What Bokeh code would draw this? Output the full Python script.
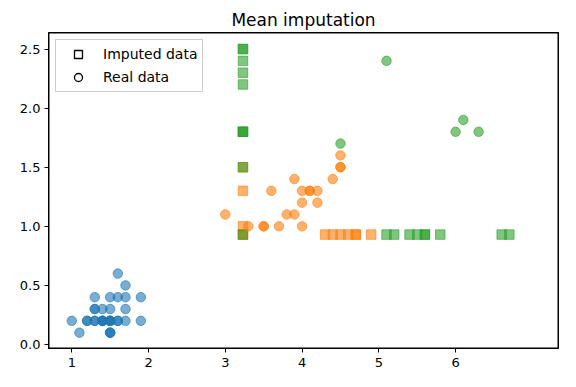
import numpy as np
from bokeh.plotting import figure
from bokeh.models import (Legend, LegendItem, FixedTicker, NumeralTickFormatter, Range1d)
from bokeh.embed import file_html
from bokeh.resources import INLINE

# Means used for imputation
MEAN_LENGTH = 3.23
MEAN_WIDTH = 0.93

species = ["setosa", "versicolor", "virginica"]
colors = ["#1f77b4", "#ff7f0e", "#2ca02c"]

# Petal length / width per species; None = missing value (imputed)
setosa_len = [1.0, 1.1, 1.2, 1.2, 1.3, 1.3, 1.4, 1.4, 1.4, 1.4, 1.5, 1.5, 1.5, 1.5,
              1.6, 1.6, 1.7, 1.9, 1.5, 1.5, 1.5, 1.3, 1.3, 1.4, 1.5, 1.7,
              1.3, 1.5, 1.6, 1.7, 1.9, 1.7, 1.6]
setosa_wid = [0.2, 0.1, 0.2, 0.2, 0.2, 0.2, 0.2, 0.2, 0.2, 0.2, 0.2, 0.2, 0.2, 0.2,
              0.2, 0.2, 0.2, 0.2, 0.1, 0.1, 0.1, 0.3, 0.3, 0.3, 0.3, 0.3,
              0.4, 0.4, 0.4, 0.4, 0.4, 0.5, 0.6]

versicolor_len = [3.0, 3.3, 3.5, 3.5, 3.7, 4.0, 3.6, 3.8, 3.9, 3.9, 4.0, 4.1, 4.1, 4.2,
                  4.0, 4.2, 4.4, 4.5, 4.5, 4.5,
                  None, None, None, None, None,
                  4.3, 4.4, 4.5, 4.6, 4.7, 4.7, 4.9]
versicolor_wid = [1.1, 1.0, 1.0, 1.0, 1.0, 1.0, 1.3, 1.1, 1.1, 1.4, 1.3, 1.3, 1.3, 1.3,
                  1.2, 1.2, 1.4, 1.5, 1.5, 1.6,
                  1.3, 1.0, 1.5, None, None,
                  None, None, None, None, None, None, None]

virginica_len = [4.5, 5.1, 6.0, 6.1, 6.3,
                 None, None, None, None, None, None, None, None, None, None,
                 5.1, 5.2, 5.4, 5.5, 5.6, 5.6, 5.8, 6.6, 6.7]
virginica_wid = [1.7, 2.4, 1.8, 1.9, 1.8,
                 2.5, 2.5, 2.4, 2.3, 2.2, 1.8, 1.8, 1.8, 1.5, None,
                 None, None, None, None, None, None, None, None, None]

x_ticks = [1, 2, 3, 4, 5, 6]
y_ticks = [0.0, 0.5, 1.0, 1.5, 2.0, 2.5]
x_limits = (0.697, 7.34)
y_limits = (-0.034, 2.64)

FONT = "DejaVu Sans"

p = figure(width=576, height=387, output_backend="svg", toolbar_location=None,
           title="Mean imputation",
           x_range=Range1d(*x_limits), y_range=Range1d(*y_limits),
           min_border_left=48, min_border_right=18, min_border_top=32, min_border_bottom=39)

p.title.align = "center"
p.title.text_font = FONT
p.title.text_font_size = "17px"
p.title.text_font_style = "normal"
p.title.text_color = "black"
p.title.standoff = 5

p.xgrid.visible = False
p.ygrid.visible = False
p.outline_line_color = "black"
p.outline_line_width = 1
p.outline_line_alpha = 1.0

for ax in (p.xaxis[0], p.yaxis[0]):
    ax.axis_line_color = "black"
    ax.major_tick_line_color = "black"
    ax.major_tick_out = 4
    ax.major_tick_in = 0
    ax.minor_tick_line_color = None
    ax.major_label_text_font = FONT
    ax.major_label_text_font_size = "13px"
    ax.major_label_text_color = "black"

p.xaxis[0].major_label_standoff = 5
p.yaxis[0].major_label_standoff = 4
p.xaxis[0].ticker = FixedTicker(ticks=x_ticks)
p.yaxis[0].ticker = FixedTicker(ticks=y_ticks)
p.yaxis[0].formatter = NumeralTickFormatter(format="0.0")

# Frame box on all four sides, along the axis limits
p.quad(left=[x_limits[0]], right=[x_limits[1]], bottom=[y_limits[0]], top=[y_limits[1]],
       fill_color=None, line_color="black", line_width=2)

ALPHA = 0.6
all_len = [setosa_len, versicolor_len, virginica_len]
all_wid = [setosa_wid, versicolor_wid, virginica_wid]

# Imputed points (squares) first, then real points (circles)
for lens, wids, c in zip(all_len, all_wid, colors):
    ix, iy = [], []
    for l, w in zip(lens, wids):
        if l is None or w is None:
            ix.append(MEAN_LENGTH if l is None else l)
            iy.append(MEAN_WIDTH if w is None else w)
    if ix:
        p.scatter(ix, iy, marker="square", size=9.5, fill_color=c, fill_alpha=ALPHA,
                  line_color=c, line_alpha=ALPHA)

for lens, wids, c in zip(all_len, all_wid, colors):
    rx = [l for l, w in zip(lens, wids) if l is not None and w is not None]
    ry = [w for l, w in zip(lens, wids) if l is not None and w is not None]
    p.scatter(rx, ry, marker="circle", size=9.5, fill_color=c, fill_alpha=ALPHA,
              line_color=c, line_alpha=ALPHA)

# Legend proxies (not drawn in the plot area)
sq = p.scatter([np.nan], [np.nan], marker="square", size=9, fill_color="white",
               line_color="black", line_width=1.3)
ci = p.scatter([np.nan], [np.nan], marker="circle", size=9, fill_color="white",
               line_color="black", line_width=1.3)
legend = Legend(items=[LegendItem(label="Imputed data", renderers=[sq]),
                       LegendItem(label="Real data", renderers=[ci])],
                location="top_left", margin=7, padding=4, spacing=3,
                label_text_font=FONT, label_text_font_size="14px", label_text_color="black",
                label_standoff=7, glyph_width=36, glyph_height=20,
                border_line_color="#cccccc", border_line_alpha=1.0,
                background_fill_alpha=0.8)
p.add_layout(legend)

open("out.html", "w").write(file_html(p, INLINE))
